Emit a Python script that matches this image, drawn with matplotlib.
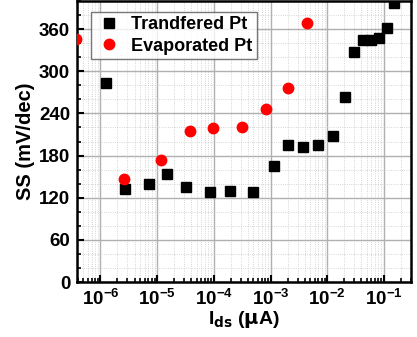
import numpy as np
import matplotlib
matplotlib.use('Agg')
import matplotlib.pyplot as plt
from matplotlib.ticker import LogLocator, MultipleLocator, NullFormatter

plt.rcParams['font.family'] = ['Liberation Sans', 'DejaVu Sans']
plt.rcParams['font.weight'] = 'bold'

# ── Data ─────────────────────────────────────────────────────────────
trans_ids = [1.24e-6, 2.76e-6, 7.3e-6, 1.5e-5, 3.2e-5, 8.4e-5, 1.94e-4, 4.85e-4,
             1.17e-3, 2.04e-3, 3.8e-3, 6.9e-3, 1.24e-2, 2.07e-2, 2.98e-2,
             4.2e-2, 5.8e-2, 8.1e-2, 0.115, 0.153]
trans_ss = [284, 133, 139, 154, 135, 128.5, 129, 128,
            165, 195.5, 192, 194.5, 208.5, 264, 327,
            345, 344, 348, 361.5, 397]

evap_ids = [3.78e-7, 2.65e-6, 1.16e-5, 3.76e-5, 9.8e-5, 3.16e-4, 8.2e-4, 2.0e-3, 4.36e-3]
evap_ss = [346.6, 147, 174, 215, 219, 221, 247, 276, 368]

yticks = [0, 60, 120, 180, 240, 300, 360]

fig = plt.figure(figsize=(4.17, 3.37), dpi=100)
ax = fig.add_axes([0.185, 0.163, 0.801, 0.834])

ax.plot(trans_ids, trans_ss, 's', color='black', markersize=6.5, label='Trandfered Pt',
        linestyle='none', zorder=3)
ax.plot(evap_ids, evap_ss, 'o', color='red', markersize=7.5, label='Evaporated Pt',
        linestyle='none', zorder=3)

ax.set_xscale('log')
ax.set_xlim(10**-6.41, 10**-0.52)
ax.set_ylim(0, 400)
ax.set_yticks(yticks)
ax.yaxis.set_minor_locator(MultipleLocator(20))
ax.xaxis.set_major_locator(LogLocator(base=10, numticks=20))
ax.xaxis.set_minor_locator(LogLocator(base=10, subs=np.arange(2, 10), numticks=20))
ax.xaxis.set_minor_formatter(NullFormatter())

ax.grid(True, which='major', color='#b0b0b0', linewidth=1.0, linestyle='-')
ax.grid(True, which='minor', color='#c8c8c8', linewidth=0.6, linestyle=':')
ax.set_axisbelow(True)

ax.tick_params(which='both', direction='in', top=False, right=False,
               labelsize=13.5, width=1.5)
ax.tick_params(which='major', length=5, pad=5)
ax.tick_params(which='minor', length=3, width=1.2)
for lbl in ax.get_xticklabels() + ax.get_yticklabels():
    lbl.set_fontweight('bold')
for s in ax.spines.values():
    s.set_linewidth(1.8)

ax.set_ylabel('SS (mV/dec)', fontsize=14.5, fontweight='bold', labelpad=3)
ax.set_xlabel(r'I$_{\mathbf{ds}}$ ($\mathbf{\mu}$A)', fontsize=14, fontweight='bold', labelpad=0)

leg = ax.legend(loc='upper left', bbox_to_anchor=(0.03, 0.975), fontsize=13,
                frameon=True, fancybox=False, edgecolor='#555555',
                handletextpad=0.5, borderpad=0.25, labelspacing=0.25,
                handlelength=1.5, borderaxespad=0.2)
leg.get_frame().set_linewidth(1.0)
for t in leg.get_texts():
    t.set_fontweight('bold')

plt.savefig('out.png', dpi=100)
